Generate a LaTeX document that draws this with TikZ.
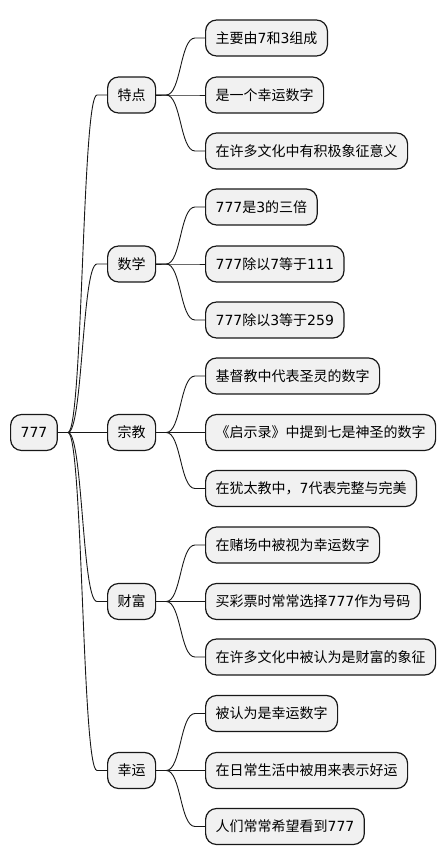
\documentclass[tikz,border=0pt]{standalone}
\usepackage{fontspec}
\setmainfont{Noto Sans CJK SC}
\newfontfamily\numfont{DejaVu Sans}
\newcommand\nm[1]{{\numfont #1}}
\definecolor{boxfill}{HTML}{F1F1F1}
\definecolor{boxline}{HTML}{181818}
\tikzset{
  topic/.style={draw=boxline, fill=boxfill, line width=1.2pt, rounded corners=11pt,
    anchor=west, inner xsep=10pt, inner ysep=0pt, minimum height=36pt,
    text height=11pt, text depth=0.4pt, font=\fontsize{14pt}{16pt}\selectfont},
  link/.style={draw=boxline, line width=0.9pt}
}
\newcommand\branch[2]{\draw[link] (#1.east) -- ++(10,0)
  .. controls +(15,0) and +(-15,0) .. ([xshift=-10pt]#2.west) -- (#2.west);}
\begin{document}
\begin{tikzpicture}[x=1pt, y=-1pt]
    \useasboundingbox (0,0) rectangle (446,865);
    % root
    \node[topic] (root) at (10,432.5) {\nm{777}};
    % first level
    \node[topic] (tedian) at (107,95) {特点};
    \node[topic] (shuxue) at (107,264) {数学};
    \node[topic] (zongjiao) at (107,432.5) {宗教};
    \node[topic] (caifu) at (107,601.5) {财富};
    \node[topic] (xingyun) at (107,770.5) {幸运};
    % leaves
    \node[topic] (t1) at (205,38) {主要由\nm{7}和\nm{3}组成};
    \node[topic] (t2) at (205,95) {是一个幸运数字};
    \node[topic] (t3) at (205,151) {在许多文化中有积极象征意义};
    \node[topic] (s1) at (205,207) {\nm{777}是\nm{3}的三倍};
    \node[topic] (s2) at (205,264) {\nm{777}除以\nm{7}等于\nm{111}};
    \node[topic] (s3) at (205,320) {\nm{777}除以\nm{3}等于\nm{259}};
    \node[topic] (z1) at (205,376) {基督教中代表圣灵的数字};
    \node[topic] (z2) at (205,432.5) {《启示录》中提到七是神圣的数字};
    \node[topic] (z3) at (205,488.5) {在犹太教中，\nm{7}代表完整与完美};
    \node[topic] (c1) at (205,545) {在赌场中被视为幸运数字};
    \node[topic] (c2) at (205,601.5) {买彩票时常常选择\nm{777}作为号码};
    \node[topic] (c3) at (205,657) {在许多文化中被认为是财富的象征};
    \node[topic] (x1) at (205,713.5) {被认为是幸运数字};
    \node[topic] (x2) at (205,770.5) {在日常生活中被用来表示好运};
    \node[topic] (x3) at (205,826.5) {人们常常希望看到\nm{777}};
    % connectors
    \branch{root}{tedian}
    \branch{root}{shuxue}
    \branch{root}{zongjiao}
    \branch{root}{caifu}
    \branch{root}{xingyun}
    \branch{tedian}{t1}
    \branch{tedian}{t2}
    \branch{tedian}{t3}
    \branch{shuxue}{s1}
    \branch{shuxue}{s2}
    \branch{shuxue}{s3}
    \branch{zongjiao}{z1}
    \branch{zongjiao}{z2}
    \branch{zongjiao}{z3}
    \branch{caifu}{c1}
    \branch{caifu}{c2}
    \branch{caifu}{c3}
    \branch{xingyun}{x1}
    \branch{xingyun}{x2}
    \branch{xingyun}{x3}
\end{tikzpicture}
\end{document}
